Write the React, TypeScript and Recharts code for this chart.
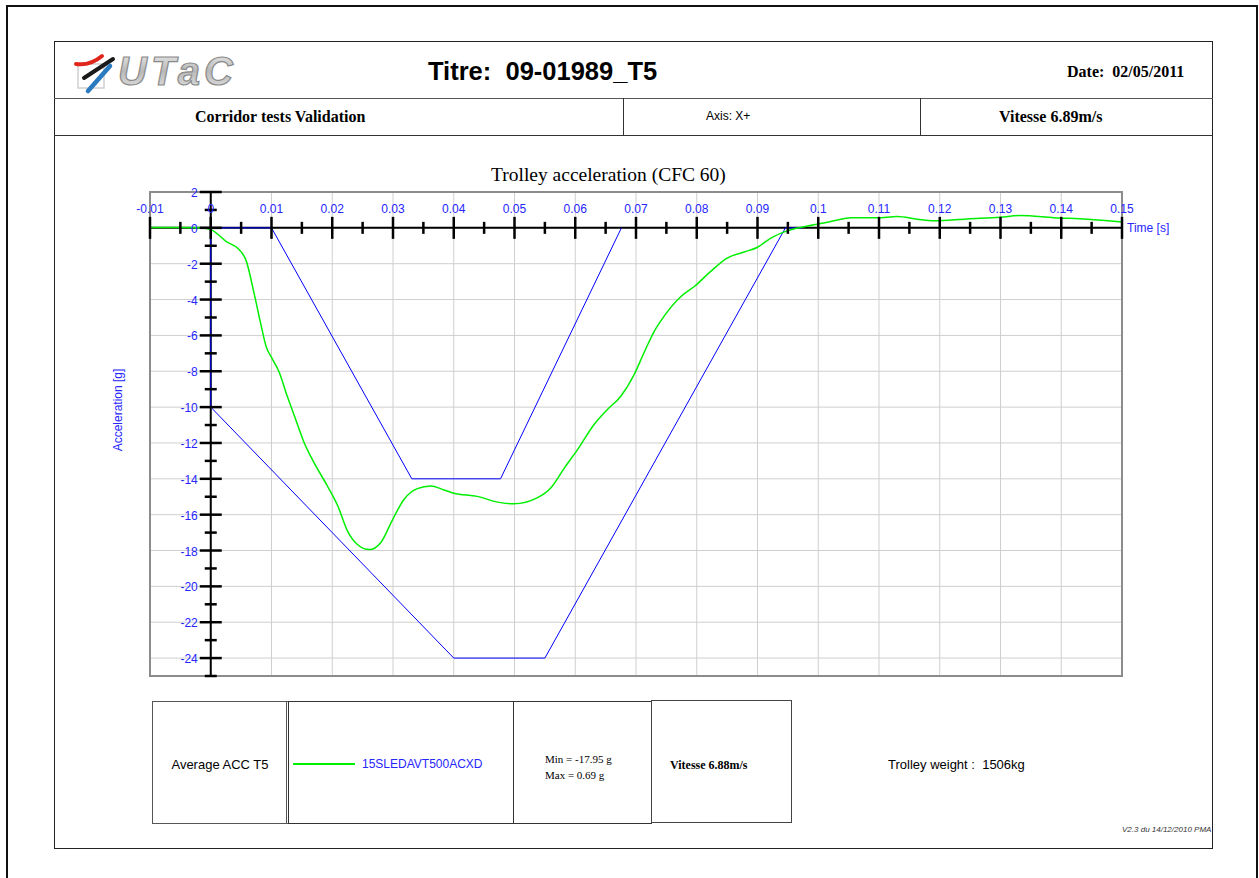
import React from 'react';
import {
  ComposedChart,
  Line,
  Scatter,
  XAxis,
  YAxis,
  CartesianGrid,
  ReferenceLine,
  ReferenceArea,
} from 'recharts';

// averaged trolley acceleration (CFC 60)
const avgTime = [
  -0.01, -0.005, -0.002, 0, 0.0025, 0.0049, 0.0058, 0.0071, 0.0082, 0.0091, 0.0102, 0.0112,
  0.0126, 0.014, 0.0154, 0.017, 0.0192, 0.0209, 0.0225, 0.0241, 0.0261, 0.028, 0.0299, 0.0318,
  0.034, 0.0362, 0.0384, 0.04, 0.0439, 0.0472, 0.0499, 0.0538, 0.056, 0.0582, 0.0604, 0.0631,
  0.0653, 0.0675, 0.0697, 0.0713, 0.073, 0.0746, 0.0774, 0.0796, 0.0823, 0.085, 0.0878, 0.09,
  0.0922, 0.0949, 0.0993, 0.1026, 0.1054, 0.1097, 0.113, 0.1163, 0.119, 0.1245, 0.13, 0.1333,
  0.1388, 0.1443, 0.15,
];
const avgAcc = [
  0.02, 0.02, 0.0, -0.1, -0.75, -1.3, -1.8, -3.6, -5.3, -6.6, -7.35, -8.0,
  -9.4, -10.7, -12.0, -13.1, -14.4, -15.5, -16.9, -17.65, -17.95, -17.55, -16.3, -15.15,
  -14.55, -14.4, -14.62, -14.8, -14.98, -15.3, -15.39, -15.05, -14.5, -13.4, -12.36, -10.97,
  -10.13, -9.39, -8.18, -6.98, -5.77, -4.94, -3.83, -3.27, -2.43, -1.69, -1.35, -1.08,
  -0.57, -0.17, 0.17, 0.39, 0.57, 0.56, 0.63, 0.48, 0.39, 0.5, 0.59, 0.69,
  0.57, 0.48, 0.33,
];

// corridor limits
const upperTime = [0, 0.01, 0.0331, 0.0477, 0.0676];
const upperAcc = [0, 0, -14, -14, 0];
const lowerTime = [0, 0, 0.04, 0.055, 0.0946, 0.0975];
const lowerAcc = [0, -10, -24, -24, 0, 0];

// axis ticks
const timeTicks = [-0.01, 0, 0.01, 0.02, 0.03, 0.04, 0.05, 0.06, 0.07, 0.08, 0.09, 0.1, 0.11, 0.12, 0.13, 0.14, 0.15];
const timeMinor = [-0.005, 0.005, 0.015, 0.025, 0.035, 0.045, 0.055, 0.065, 0.075, 0.085, 0.095, 0.105, 0.115, 0.125, 0.135, 0.145];
const accTicks = [2, 0, -2, -4, -6, -8, -10, -12, -14, -16, -18, -20, -22, -24];
const accMinor = [1, -1, -3, -5, -7, -9, -11, -13, -15, -17, -19, -21, -23, -25];

const zip = (ts: number[], as: number[]) => ts.map((t, i) => ({ t, a: as[i] }));
const avgData = zip(avgTime, avgAcc);
const upperData = zip(upperTime, upperAcc);
const lowerData = zip(lowerTime, lowerAcc);
const xMajor = timeTicks.map((t) => ({ t, a: 0 }));
const xMinor = timeMinor.map((t) => ({ t, a: 0 }));
const yMajor = accTicks.map((a) => ({ t: 0, a }));
const yMinor = accMinor.map((a) => ({ t: 0, a }));

const SANS = '"Liberation Sans", Arial, sans-serif';
const SERIF = '"Liberation Serif", "Times New Roman", serif';
const BLUE = '#2626ff';

const abs = (left: number, top: number, extra: React.CSSProperties = {}): React.CSSProperties => ({
  position: 'absolute',
  left,
  top,
  ...extra,
});

function Logo() {
  return (
    <svg width={190} height={50} style={abs(68, 46)}>
      <defs>
        <linearGradient id="metal" x1="0" y1="0" x2="0" y2="1">
          <stop offset="0%" stopColor="#f2f2f2" />
          <stop offset="50%" stopColor="#b8b8b8" />
          <stop offset="100%" stopColor="#e6e6e6" />
        </linearGradient>
      </defs>
      <rect x={10} y={18} width={26} height={24} fill="none" stroke="#d0d0d0" strokeWidth={1.5} />
      <path d="M8 18 Q22 20 34 10" stroke="#e0261b" strokeWidth={4} fill="none" strokeLinecap="round" />
      <path d="M16 32 L45 13" stroke="#1a1a1a" strokeWidth={4} fill="none" strokeLinecap="round" />
      <path d="M20 45 L42 20" stroke="#2a7ac0" strokeWidth={4.5} fill="none" strokeLinecap="round" />
      <text
        x={50}
        y={39}
        fontFamily={SANS}
        fontStyle="italic"
        fontWeight="bold"
        fontSize={40}
        letterSpacing={4}
        fill="url(#metal)"
        stroke="#8a8a8a"
        strokeWidth={1.2}
      >
        UTaC
      </text>
    </svg>
  );
}

const xTickMark = (len: number) => (p: any) => (
  <line x1={p.cx} x2={p.cx} y1={p.cy - len} y2={p.cy + len} stroke="#000" strokeWidth={2.5} />
);
const yTickMark = (len: number) => (p: any) => (
  <line x1={p.cx - len} x2={p.cx + len} y1={p.cy} y2={p.cy} stroke="#000" strokeWidth={2.5} />
);
const xTickLabel = (p: any) => (
  <text x={p.cx} y={p.cy - 15} textAnchor="middle" fontFamily={SANS} fontSize={12} fill={BLUE}>
    {String(p.payload.t)}
  </text>
);
const yTickLabel = (p: any) => (
  <text x={p.cx - 13} y={p.cy + 5} textAnchor="end" fontFamily={SANS} fontSize={12} fill={BLUE}>
    {String(p.payload.a)}
  </text>
);

function AccelChart() {
  return (
    <ComposedChart width={1120} height={560} margin={{ top: 42, right: 98, bottom: 34, left: 50 }}>
      <XAxis dataKey="t" type="number" domain={[-0.01, 0.15]} ticks={timeTicks} hide />
      <YAxis dataKey="a" type="number" domain={[-25, 2]} ticks={accTicks} hide />
      <CartesianGrid stroke="#cfcfcf" strokeWidth={1} />
      <ReferenceArea x1={-0.01} x2={0.15} y1={-25} y2={2} fill="none" stroke="#8c8c8c" strokeWidth={2} />
      <ReferenceLine
        y={0}
        stroke="#000"
        strokeWidth={2}
        label={{ value: 'Time [s]', position: 'right', fill: BLUE, fontSize: 12, fontFamily: SANS }}
      />
      <ReferenceLine x={0} stroke="#000" strokeWidth={2} />
      <Line data={upperData} dataKey="a" type="linear" stroke="#0000ff" strokeWidth={1} dot={false} isAnimationActive={false} />
      <Line data={lowerData} dataKey="a" type="linear" stroke="#0000ff" strokeWidth={1} dot={false} isAnimationActive={false} />
      <Line data={avgData} dataKey="a" type="monotone" stroke="#00ee00" strokeWidth={1.5} dot={false} isAnimationActive={false} />
      <Scatter data={xMajor} dataKey="a" shape={xTickMark(11)} isAnimationActive={false} />
      <Scatter data={xMinor} dataKey="a" shape={xTickMark(6)} isAnimationActive={false} />
      <Scatter data={yMajor} dataKey="a" shape={yTickMark(11)} isAnimationActive={false} />
      <Scatter data={yMinor} dataKey="a" shape={yTickMark(6)} isAnimationActive={false} />
      <Scatter data={xMajor} dataKey="a" shape={xTickLabel} isAnimationActive={false} />
      <Scatter data={yMajor} dataKey="a" shape={yTickLabel} isAnimationActive={false} />
    </ComposedChart>
  );
}

export default function App() {
  const cell: React.CSSProperties = { position: 'absolute', border: '1px solid #333', boxSizing: 'border-box' };
  return (
    <div style={{ position: 'absolute', left: 0, top: 0, width: 1259, height: 878, background: '#fff', overflow: 'hidden' }}>
      {/* outer page frame */}
      <div style={{ ...cell, left: 6, top: 5, width: 1252, height: 900, border: '2px solid #111' }} />
      {/* inner frame */}
      <div style={{ ...cell, left: 54, top: 41, width: 1159, height: 808, border: '1px solid #222' }} />
      <div style={abs(54, 98, { width: 1159, height: 1, background: '#555' })} />
      <div style={abs(54, 135, { width: 1159, height: 1, background: '#333' })} />
      <div style={abs(623, 98, { width: 1, height: 37, background: '#333' })} />
      <div style={abs(920, 98, { width: 1, height: 37, background: '#333' })} />

      <Logo />
      <div style={abs(428, 57, { fontFamily: SANS, fontWeight: 'bold', fontSize: 25.5, whiteSpace: 'pre' })}>
        Titre:  09-01989_T5
      </div>
      <div style={abs(1067, 63, { fontFamily: SERIF, fontWeight: 'bold', fontSize: 16, whiteSpace: 'pre' })}>
        Date:  02/05/2011
      </div>
      <div style={abs(195, 108, { fontFamily: SERIF, fontWeight: 'bold', fontSize: 16, whiteSpace: 'pre' })}>
        Corridor tests Validation
      </div>
      <div style={abs(706, 109, { fontFamily: SANS, fontSize: 12 })}>Axis: X+</div>
      <div style={abs(999, 108, { fontFamily: SERIF, fontWeight: 'bold', fontSize: 16, whiteSpace: 'pre' })}>
        Vitesse 6.89m/s
      </div>

      <div style={abs(491, 164, { fontFamily: SERIF, fontSize: 19.5, whiteSpace: 'pre' })}>
        Trolley acceleration (CFC 60)
      </div>
      <div
        style={abs(118, 410, {
          transform: 'translate(-50%, -50%) rotate(-90deg)',
          fontFamily: SANS,
          fontSize: 12,
          color: BLUE,
          whiteSpace: 'nowrap',
        })}
      >
        Acceleration [g]
      </div>

      <div style={abs(100, 150)}>
        <AccelChart />
      </div>

      {/* legend table */}
      <div style={{ ...cell, left: 152, top: 701, width: 137, height: 123, border: '1px solid #555', borderRight: '3px double #555' }} />
      <div style={abs(152, 757, { width: 136, textAlign: 'center', fontFamily: SANS, fontSize: 13 })}>Average ACC T5</div>
      <div style={{ ...cell, left: 288, top: 701, width: 226, height: 123, border: '1px solid #333' }} />
      <div style={abs(293, 763, { width: 62, height: 2, background: '#00ee00' })} />
      <div style={abs(362, 757, { fontFamily: SANS, fontSize: 12, color: BLUE })}>15SLEDAVT500ACXD</div>
      <div style={{ ...cell, left: 513, top: 701, width: 139, height: 123, border: '1px solid #333' }} />
      <div style={abs(545, 751, { fontFamily: SERIF, fontSize: 11, lineHeight: '16px' })}>
        Min = -17.95 g
        <br />
        Max = 0.69 g
      </div>
      <div style={{ ...cell, left: 651, top: 700, width: 141, height: 123, border: '1px solid #444' }} />
      <div style={abs(670, 758, { fontFamily: SERIF, fontWeight: 'bold', fontSize: 12, whiteSpace: 'pre' })}>
        Vitesse 6.88m/s
      </div>
      <div style={abs(888, 757, { fontFamily: SANS, fontSize: 13, whiteSpace: 'pre' })}>Trolley weight :  1506kg</div>
      <div style={abs(1122, 825, { fontFamily: SANS, fontStyle: 'italic', fontSize: 8, color: '#333', whiteSpace: 'pre' })}>
        V2.3 du 14/12/2010 PMA
      </div>
    </div>
  );
}
